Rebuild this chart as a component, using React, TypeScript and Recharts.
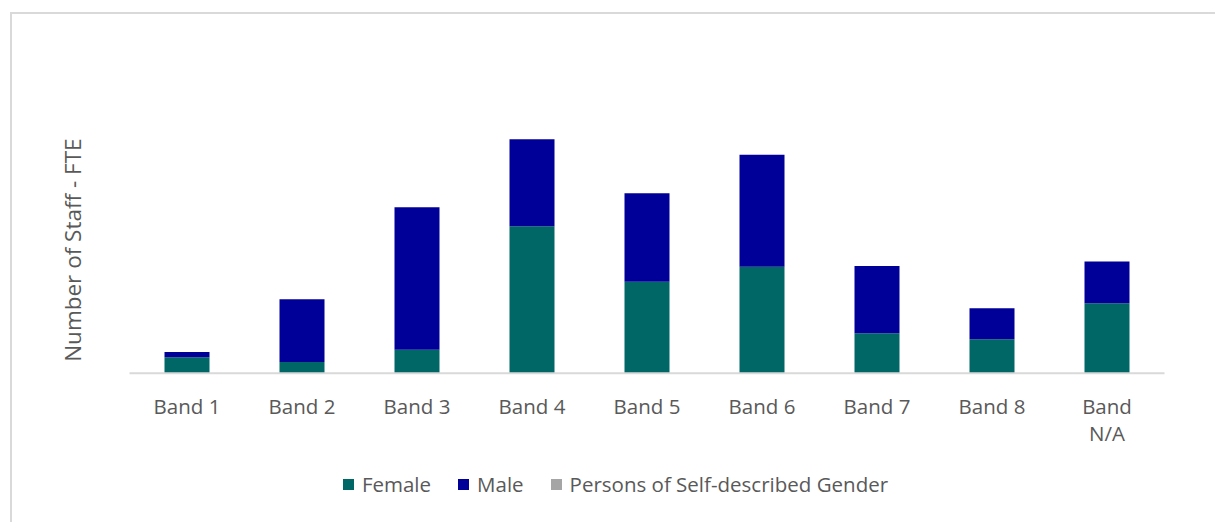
import React from 'react';
import { BarChart, Bar, XAxis, YAxis } from 'recharts';

const bands = ['Band 1', 'Band 2', 'Band 3', 'Band 4', 'Band 5', 'Band 6', 'Band 7', 'Band 8', 'Band N/A'];
const female = [16.2, 11.5, 24, 149.2, 93, 108.2, 40.6, 34.5, 71];
const male = [5.4, 63.6, 144.5, 88.3, 89.7, 113.7, 68.3, 31.5, 42.6];
const selfDescribed = [0, 0, 0, 0, 0, 0, 0, 0, 0];

const SERIES = [
  { key: 'female', name: 'Female', color: '#006666' },
  { key: 'male', name: 'Male', color: '#000099' },
  { key: 'self', name: 'Persons of Self-described Gender', color: '#a5a5a5' },
];

const FONT = '"Open Sans", sans-serif';
const TEXT_COLOR = '#595959';
const TICK_SIZE = 20.5;

const data = bands.map((band, i) => ({
  band,
  female: female[i],
  male: male[i],
  self: selfDescribed[i],
}));

// greedy word wrap, like Excel does for long category labels
let ctx: CanvasRenderingContext2D | null = null;
const wrap = (label: string, maxWidth: number) => {
  if (!ctx) ctx = document.createElement('canvas').getContext('2d');
  if (!ctx) return [label];
  ctx.font = `${TICK_SIZE}px ${FONT}`;
  const lines: string[] = [];
  let cur = '';
  label.split(' ').forEach((w) => {
    const next = cur ? cur + ' ' + w : w;
    if (cur && ctx!.measureText(next).width > maxWidth) {
      lines.push(cur);
      cur = w;
    } else cur = next;
  });
  lines.push(cur);
  return lines;
};

const BandTick = (props: any) => {
  const { x, y, payload } = props;
  const lines = wrap(payload.value, 80);
  return (
    <text
      x={x}
      y={y + 26}
      textAnchor="middle"
      fill={TEXT_COLOR}
      style={{ fontFamily: FONT, fontSize: TICK_SIZE }}
    >
      {lines.map((l, i) => (
        <tspan key={i} x={x} dy={i === 0 ? '0.71em' : 27}>
          {l}
        </tspan>
      ))}
    </text>
  );
};

const App: React.FC = () => {
  return (
    <div style={{ position: 'relative', width: 1215, height: 514, overflow: 'hidden', background: '#fff' }}>
      <div
        style={{
          position: 'absolute',
          left: 2,
          top: 4,
          right: -10,
          bottom: -10,
          borderLeft: '2px solid #d9d9d9',
          borderTop: '2px solid #d9d9d9',
        }}
      />
      <div style={{ position: 'absolute', left: 0, top: 0 }}>
        <BarChart
          width={1215}
          height={514}
          data={data}
          margin={{ top: 119, right: 58.5, bottom: 88.7, left: 41.5 }}
          barSize={45}
        >
          <XAxis
            dataKey="band"
            height={60}
            tickLine={false}
            tickSize={0}
            tickMargin={0}
            axisLine={{ stroke: '#d9d9d9', strokeWidth: 2 }}
            tick={<BandTick />}
            interval={0}
          />
          <YAxis
            width={80}
            domain={[0, 250]}
            tick={false}
            tickLine={false}
            axisLine={false}
            label={{
              value: 'Number of Staff - FTE',
              angle: -90,
              position: 'insideLeft',
              offset: 23.5,
              fill: TEXT_COLOR,
              style: { textAnchor: 'middle', fontFamily: FONT, fontSize: 22.5, fill: TEXT_COLOR },
            }}
          />
          {SERIES.map((s) => (
            <Bar key={s.key} dataKey={s.key} name={s.name} stackId="a" fill={s.color} isAnimationActive={false} />
          ))}
        </BarChart>
      </div>
      <div
        style={{
          position: 'absolute',
          left: 0,
          top: 464,
          width: 1215,
          height: 24,
          display: 'flex',
          justifyContent: 'center',
          alignItems: 'center',
          fontFamily: FONT,
          fontSize: TICK_SIZE,
          color: TEXT_COLOR,
        }}
      >
        {SERIES.map((s, i) => (
          <div key={s.key} style={{ display: 'flex', alignItems: 'center', marginLeft: i === 0 ? 0 : 27 }}>
            <span style={{ width: 11, height: 11, background: s.color, marginRight: 8, display: 'inline-block' }} />
            <span>{s.name}</span>
          </div>
        ))}
      </div>
    </div>
  );
};

export default App;
